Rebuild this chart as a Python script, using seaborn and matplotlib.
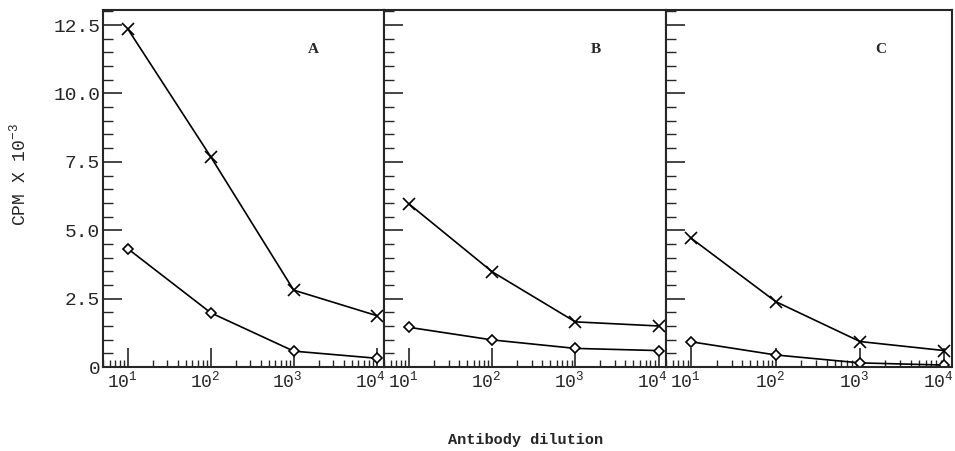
import pandas as pd
import matplotlib
matplotlib.use('Agg')
import matplotlib.pyplot as plt
import matplotlib.transforms as mtransforms
import seaborn as sns
from matplotlib.ticker import MultipleLocator, LogLocator, NullFormatter

# values
dilution = [10, 100, 1000, 10000]
x_tick_labels = ['$10^{1}$', '$10^{2}$', '$10^{3}$', '$10^{4}$']
y_ticks = [0, 2.5, 5.0, 7.5, 10.0, 12.5]
y_tick_labels = ['0', '2.5', '5.0', '7.5', '10.0', '12.5']
panels = ['A', 'B', 'C']

a_cross = [12.35, 7.68, 2.81, 1.88]
a_diamond = [4.32, 1.98, 0.58, 0.32]
b_cross = [5.96, 3.48, 1.65, 1.50]
b_diamond = [1.45, 0.99, 0.68, 0.60]
c_cross = [4.70, 2.39, 0.93, 0.60]
c_diamond = [0.92, 0.44, 0.15, 0.07]

rows = []
for p, cr, di in zip(panels, [a_cross, b_cross, c_cross], [a_diamond, b_diamond, c_diamond]):
    for d, v in zip(dilution, cr):
        rows.append((p, 'cross', d, v))
    for d, v in zip(dilution, di):
        rows.append((p, 'diamond', d, v))
df = pd.DataFrame(rows, columns=['panel', 'series', 'dilution', 'cpm'])

sns.set_style('ticks')
plt.rcParams['font.family'] = ['Liberation Mono', 'DejaVu Sans']
plt.rcParams['mathtext.fontset'] = 'custom'
plt.rcParams['mathtext.rm'] = 'Liberation Mono'
plt.rcParams['mathtext.it'] = 'Liberation Mono'

fig = plt.figure(figsize=(9.55, 4.51), dpi=100)
W, H = 955, 451
edges = [(103, 384), (384, 666), (666, 952)]
top, bottom = 10, 367
# tick labels in the scan sit a little left of their ticks
shift = mtransforms.ScaledTranslation(-6 / 100, 0, fig.dpi_scale_trans)

for i, (p, (x0, x1)) in enumerate(zip(panels, edges)):
    ax = fig.add_axes([x0 / W, 1 - bottom / H, (x1 - x0) / W, (bottom - top) / H])
    sub = df[df['panel'] == p]
    sns.lineplot(data=sub[sub['series'] == 'cross'], x='dilution', y='cpm', ax=ax,
                 color='black', lw=1.2, marker='x', markersize=8, markeredgewidth=1.2,
                 markeredgecolor='black')
    sns.lineplot(data=sub[sub['series'] == 'diamond'], x='dilution', y='cpm', ax=ax,
                 color='black', lw=1.2, marker='D', markersize=5, markeredgewidth=1.2,
                 markeredgecolor='black', markerfacecolor='white')
    ax.set_xscale('log')
    ax.set_xlim(5.0, 12300)
    ax.set_ylim(0, 13.05)
    ax.set_xticks(dilution, labels=x_tick_labels)
    ax.xaxis.set_minor_locator(LogLocator(base=10, subs=range(2, 10)))
    ax.xaxis.set_minor_formatter(NullFormatter())
    ax.set_yticks(y_ticks, labels=y_tick_labels)
    ax.yaxis.set_minor_locator(MultipleLocator(0.5))
    ax.tick_params(axis='both', which='major', direction='in', length=14, width=1.2)
    ax.tick_params(axis='both', which='minor', direction='in', length=5, width=1.0)
    ax.tick_params(axis='y', which='minor', length=7)
    ax.tick_params(axis='x', labelsize=13, pad=3)
    ax.tick_params(axis='y', labelsize=14, pad=2)
    for lab in ax.get_xticklabels():
        lab.set_transform(lab.get_transform() + shift)
    if i > 0:
        ax.tick_params(axis='y', labelleft=False)
    for s in ax.spines.values():
        s.set_visible(True)
        s.set_linewidth(1.5)
    ax.set_xlabel('')
    ax.set_ylabel('')
    ax.text(0.75, 0.888, p, transform=ax.transAxes, fontsize=11, fontweight='bold',
            family='Liberation Serif', ha='center', va='center')

fig.text(526 / W, 1 - 440 / H, 'Antibody dilution', fontsize=11, fontweight='bold',
         ha='center', va='center')
fig.text(19 / W, 1 - 175 / H, 'CPM X $10^{-3}$', fontsize=13, rotation=90,
         ha='center', va='center')

fig.savefig('out.png', dpi=100)
